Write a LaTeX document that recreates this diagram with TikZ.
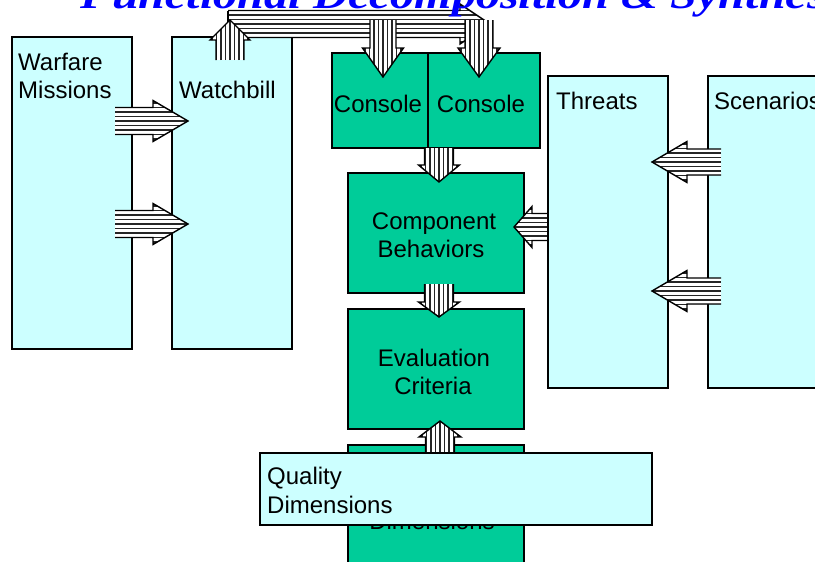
\documentclass[tikz,border=0pt]{standalone}
\usepackage{fontspec}
\setmainfont{Liberation Sans}
\newfontfamily\titlefont{Liberation Serif}
\definecolor{cyanfill}{HTML}{CCFFFF}
\definecolor{greenfill}{HTML}{00CC99}
\definecolor{titleblue}{HTML}{0000FF}
\tikzset{
  panel/.style={draw, line width=1.4pt, fill=cyanfill, anchor=north west, inner sep=0pt, outer sep=0pt},
  gbox/.style={draw, line width=1.4pt, fill=greenfill, anchor=north west, inner sep=0pt, outer sep=0pt},
  lbl/.style={anchor=base west, inner sep=0pt, font=\fontsize{24}{28}\selectfont},
  clbl/.style={anchor=base, inner sep=0pt, font=\fontsize{24}{28}\selectfont},
  stripe/.style={line width=1.1pt, black!85},
  arrowline/.style={line width=1.4pt, line join=miter},
}
% horizontal striped block arrow: tail x, head-base x, tip x, centre y, shaft half, head half
\newcommand{\hstripe}[6]{%
  \begin{scope}
    \clip (#1,#4-#5) -- (#2,#4-#5) -- (#2,#4-#6) -- (#3,#4) -- (#2,#4+#6) -- (#2,#4+#5) -- (#1,#4+#5) -- cycle;
    \fill[white] (#1,#4-#6) rectangle (#3,#4+#6);
    \foreach \k in {-5,...,5} \draw[stripe] (#1,#4+\k*4.5) -- (#3,#4+\k*4.5);
  \end{scope}
  \draw[arrowline] (#1,#4-#5) -- (#2,#4-#5) -- (#2,#4-#6) -- (#3,#4) -- (#2,#4+#6) -- (#2,#4+#5) -- (#1,#4+#5);
}
% vertical striped block arrow: tail y, head-base y, tip y, centre x, shaft half, head half
\newcommand{\vstripe}[6]{%
  \begin{scope}
    \clip (#4-#5,#1) -- (#4-#5,#2) -- (#4-#6,#2) -- (#4,#3) -- (#4+#6,#2) -- (#4+#5,#2) -- (#4+#5,#1) -- cycle;
    \fill[white] (#4-#6,#1) rectangle (#4+#6,#3);
    \foreach \k in {-5,...,5} \draw[stripe] (#4+\k*4.5,#1) -- (#4+\k*4.5,#3);
  \end{scope}
  \draw[arrowline] (#4-#5,#1) -- (#4-#5,#2) -- (#4-#6,#2) -- (#4,#3) -- (#4+#6,#2) -- (#4+#5,#2) -- (#4+#5,#1);
}
\begin{document}
\begin{tikzpicture}[x=1pt,y=-1pt]
\useasboundingbox (0,0) rectangle (815,562);
\clip (0,0) rectangle (815,562);
\fill[white] (0,0) rectangle (815,562);
% panels
\node[panel, minimum width=120pt, minimum height=312pt] (wm) at (12,37) {};
\node[panel, minimum width=120pt, minimum height=312pt] (wb) at (172,37) {};
\node[panel, minimum width=120pt, minimum height=312pt] (th) at (548,76) {};
\node[panel, minimum width=120pt, minimum height=312pt] (sc) at (708,76) {};
\node[lbl] (wmt1) at (18,70) {Warfare};
\node[lbl] (wmt2) at (18,98) {Missions};
\node[lbl] (wbt) at (179,98) {Watchbill};
\node[lbl] (tht) at (556,109) {Threats};
\node[lbl] (sct) at (714,109) {Scenarios};
% green boxes
\node[gbox, minimum width=96pt, minimum height=95pt] (c1) at (332,53) {};
\node[gbox, minimum width=112pt, minimum height=95pt] (c2) at (428,53) {};
\node[gbox, minimum width=176pt, minimum height=120pt] (cb) at (348,173) {};
\node[gbox, minimum width=176pt, minimum height=120pt] (ec) at (348,309) {};
\node[gbox, minimum width=176pt, minimum height=120pt] (qg) at (348,445) {};
\node[clbl] (c1t) at (378,112) {Console};
\node[clbl] (c2t) at (481,112) {Console};
\node[clbl] (cbt1) at (434,229) {Component};
\node[clbl] (cbt2) at (431,257) {Behaviors};
\node[clbl] (ect1) at (434,366) {Evaluation};
\node[clbl] (ect2) at (433,394) {Criteria};
\node[clbl] (qgt1) at (436,501) {Quality};
\node[clbl] (qgt2) at (432,529) {Dimensions};
% top arrow system
\hstripe{228}{460}{490}{24}{13.5}{20}
\draw[arrowline] (228,10.5) -- (228,37.5);
\vstripe{20}{48}{77}{383}{13}{20.5}
\vstripe{20}{48}{77}{479}{14}{21}
\vstripe{60}{40}{20}{230}{14}{20}
% side arrows
\hstripe{115}{153}{188}{121}{13.5}{20.5}
\hstripe{115}{153}{188}{224}{13.5}{20.5}
\hstripe{721}{687}{652}{162}{13}{20.5}
\hstripe{721}{687}{652}{291}{13}{20.5}
\hstripe{547}{532}{514}{227}{13.5}{20.5}
% central column arrows
\vstripe{148}{165}{182}{439}{14.5}{20.5}
\vstripe{284}{302}{317}{439}{14.5}{20.5}
\vstripe{460}{437}{421}{440}{14.5}{21}
% overlay box
\node[panel, minimum width=392pt, minimum height=72pt] (qc) at (260,453) {};
\node[lbl] (qct1) at (267,484) {Quality};
\node[lbl] (qct2) at (267,513) {Dimensions};
% title
\node[anchor=base west, inner sep=0pt, text=titleblue, font=\titlefont\bfseries\itshape\fontsize{40}{40}\selectfont] (title) at (80,9) {\scalebox{1.2}[1]{Functional Decomposition \& Synthesis}};
\end{tikzpicture}
\end{document}
